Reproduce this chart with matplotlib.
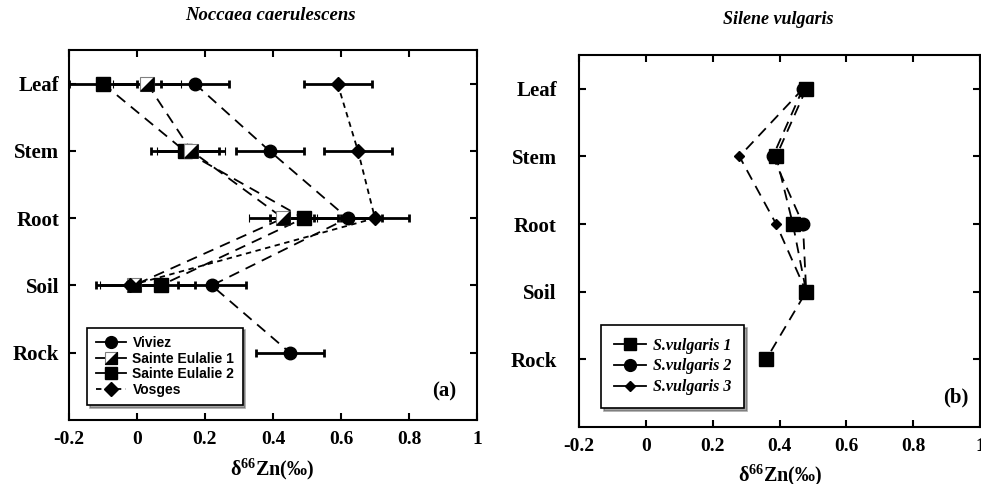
import matplotlib
matplotlib.use("Agg")
import matplotlib.pyplot as plt
from matplotlib.lines import Line2D
from matplotlib.path import Path
from matplotlib.legend_handler import HandlerTuple

# organs, bottom to top
organs = ["Rock", "Soil", "Root", "Stem", "Leaf"]

# (a) Noccaea caerulescens
viviez_org = ["Leaf", "Stem", "Root", "Soil", "Rock"]
viviez = [0.17, 0.39, 0.62, 0.22, 0.45]
se_org = ["Leaf", "Stem", "Root", "Soil"]
sainte_eulalie_1 = [0.03, 0.16, 0.43, -0.01]
sainte_eulalie_2 = [-0.10, 0.14, 0.49, 0.07]
vosges = [0.59, 0.65, 0.70, -0.02]
err_a = 0.1

# (b) Silene vulgaris
sv_org_1 = ["Leaf", "Stem", "Root", "Soil", "Rock"]
sv_org = ["Leaf", "Stem", "Root", "Soil"]
s_vulgaris_1 = [0.48, 0.39, 0.44, 0.48, 0.36]
s_vulgaris_2 = [0.47, 0.38, 0.47, 0.48]
s_vulgaris_3 = [0.47, 0.28, 0.39, 0.48]

xticks = [-0.2, 0, 0.2, 0.4, 0.6, 0.8, 1]
xticklabels = ["-0.2", "0", "0.2", "0.4", "0.6", "0.8", "1"]

serif = ["Liberation Serif", "DejaVu Serif"]
sans = ["Liberation Sans", "DejaVu Sans"]
plt.rcParams["font.family"] = serif


def ypos(names):
    return [organs.index(n) + 1 for n in names]


# lower-right half of a square, for the half filled marker
tri = Path([(0.5, -0.5), (0.5, 0.5), (-0.5, -0.5), (0.5, -0.5)],
           [Path.MOVETO, Path.LINETO, Path.LINETO, Path.CLOSEPOLY])

fig = plt.figure(figsize=(9.81, 4.84), dpi=100)
ax1 = fig.add_axes([0.0703, 0.1322, 0.4159, 0.7645])
ax2 = fig.add_axes([0.5902, 0.1178, 0.4088, 0.7686])

long_dash = (6, 4)
short_dash = (3, 2.5)
eb = dict(xerr=err_a, ecolor="black", elinewidth=2, capsize=3, capthick=2)

# ---- panel (a)
ax1.errorbar(viviez, ypos(viviez_org), color="black", marker="o", ms=9,
             ls="--", dashes=long_dash, lw=1.3, zorder=3, **eb)
ax1.errorbar(sainte_eulalie_2, ypos(se_org), color="black", marker="s", ms=9.5,
             ls="--", dashes=long_dash, lw=1.3, zorder=3, **eb)
ax1.errorbar(sainte_eulalie_1, ypos(se_org), color="black", marker="s", ms=9.5,
             mfc="white", mec="0.5", mew=0.8,
             ls="--", dashes=long_dash, lw=1.3, zorder=3, **eb)
ax1.plot(sainte_eulalie_1, ypos(se_org), ls="none", marker=tri, ms=9.5,
         color="black", zorder=4)
ax1.errorbar(vosges, ypos(se_org), color="black", marker="D", ms=7,
             ls="--", dashes=short_dash, lw=1.3, zorder=3, **eb)

h_viv = Line2D([], [], color="black", marker="o", ms=8.5, ls="-", lw=1.3)
h_se1a = Line2D([], [], color="black", marker="s", ms=8.5, mfc="white",
                mec="0.5", mew=0.8, ls="-", lw=1.3)
h_se1b = Line2D([], [], color="black", marker=tri, ms=8.5, ls="none")
h_se2 = Line2D([], [], color="black", marker="s", ms=8.5, ls="-", lw=1.3)
h_vos = Line2D([], [], color="black", marker="D", ms=7, ls="--",
               dashes=short_dash, lw=1.3)
leg1 = ax1.legend([h_viv, (h_se1a, h_se1b), h_se2, h_vos],
                  ["Viviez", "Sainte Eulalie 1", "Sainte Eulalie 2", "Vosges"],
                  handler_map={tuple: HandlerTuple(ndivide=1, pad=0)},
                  loc="lower left", bbox_to_anchor=(0.045, 0.04),
                  borderaxespad=0, fancybox=False, shadow={"color": "0.3"},
                  edgecolor="black", framealpha=1, handlelength=2.2,
                  handletextpad=0.45, borderpad=0.6, labelspacing=0.12,
                  prop={"family": sans, "weight": "bold", "size": 10})
leg1.get_frame().set_linewidth(1.2)
ax1.text(0.92, 0.076, "(a)", transform=ax1.transAxes, ha="center",
         va="center", fontsize=15, fontweight="bold")

# ---- panel (b)
ax2.plot(s_vulgaris_1, ypos(sv_org_1), color="black", marker="s", ms=9.5,
         ls="--", dashes=long_dash, lw=1.3, zorder=4)
ax2.plot(s_vulgaris_2, ypos(sv_org), color="black", marker="o", ms=9,
         ls="--", dashes=long_dash, lw=1.3, zorder=3)
ax2.plot(s_vulgaris_3, ypos(sv_org), color="black", marker="D", ms=5.5,
         ls="--", dashes=long_dash, lw=1.3, zorder=3)

h1 = Line2D([], [], color="black", marker="s", ms=8.5, ls="-", lw=1.3)
h2 = Line2D([], [], color="black", marker="o", ms=8.5, ls="-", lw=1.3)
h3 = Line2D([], [], color="black", marker="D", ms=5.5, ls="-", lw=1.3)
leg2 = ax2.legend([h1, h2, h3],
                  ["S.vulgaris 1", "S.vulgaris 2", "S.vulgaris 3"],
                  loc="lower left", bbox_to_anchor=(0.055, 0.051),
                  borderaxespad=0, fancybox=False, shadow={"color": "0.3"},
                  edgecolor="black", framealpha=1, handlelength=2.0,
                  handletextpad=0.45, borderpad=0.8, labelspacing=0.3,
                  prop={"family": serif, "weight": "bold", "style": "italic",
                        "size": 11.5})
leg2.get_frame().set_linewidth(1.2)
ax2.text(0.94, 0.08, "(b)", transform=ax2.transAxes, ha="center",
         va="center", fontsize=15, fontweight="bold")

for ax, pad in ((ax1, 7), (ax2, 16)):
    ax.set_xlim(-0.2, 1)
    ax.set_ylim(0, 5.5)
    ax.set_xticks(xticks)
    ax.set_xticklabels(xticklabels)
    ax.set_yticks(range(1, len(organs) + 1))
    ax.set_yticklabels(organs)
    ax.tick_params(axis="both", direction="in", length=5, width=1.5,
                   top=True, right=True)
    ax.tick_params(axis="y", pad=pad, labelsize=15)
    ax.tick_params(axis="x", pad=8, labelsize=14)
    for lab in ax.get_xticklabels() + ax.get_yticklabels():
        lab.set_fontweight("bold")
    for sp in ax.spines.values():
        sp.set_linewidth(1.5)

fig.text(270 / 981, 1 - 15 / 484, "Noccaea caerulescens", ha="center",
         va="center", fontsize=13.5, fontweight="bold", style="italic")
fig.text(778 / 981, 1 - 20 / 484, "Silene vulgaris", ha="center",
         va="center", fontsize=13, fontweight="bold", style="italic")
fig.text(272 / 981, 1 - 469 / 484, r"$\mathregular{\delta^{66}}$Zn(‰)",
         ha="center", va="center", fontsize=14.5, fontweight="bold")
fig.text(780 / 981, 1 - 475 / 484, r"$\mathregular{\delta^{66}}$Zn(‰)",
         ha="center", va="center", fontsize=14.5, fontweight="bold")

fig.savefig("out.png", dpi=100)
